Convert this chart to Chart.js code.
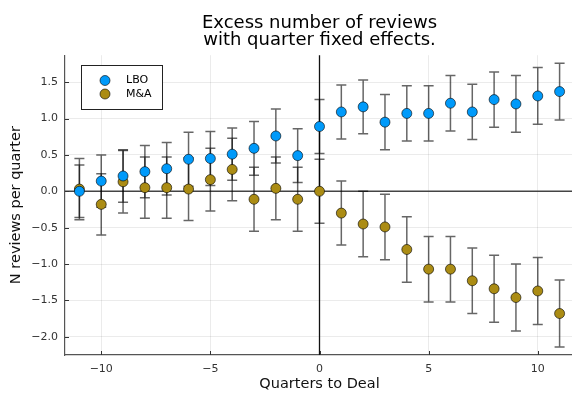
<!DOCTYPE html>
<html>
<head>
<meta charset="utf-8">
<script src="https://cdn.jsdelivr.net/npm/chart.js@4"></script>
<style>
  html, body { margin: 0; padding: 0; background: #fff; overflow: hidden; }
</style>
</head>
<body>
<canvas id="chart" width="580" height="393"></canvas>
<script>
// data

const quarters = [-11,-10,-9,-8,-7,-6,-5,-4,-3,-2,-1,0,1,2,3,4,5,6,7,8,9,10,11];

const lboValues = [0.00,0.14,0.21,0.27,0.31,0.44,0.45,0.51,0.59,0.76,0.49,0.89,1.09,1.16,0.95,1.07,1.07,1.21,1.09,1.26,1.20,1.31,1.37];
const lboErr    = [0.36,0.36,0.36,0.36,0.36,0.37,0.37,0.36,0.37,0.37,0.37,0.37,0.37,0.37,0.38,0.38,0.38,0.38,0.38,0.38,0.39,0.39,0.39];

const maValues = [0.03,-0.18,0.13,0.05,0.05,0.03,0.16,0.30,-0.11,0.04,-0.11,0.00,-0.30,-0.45,-0.49,-0.80,-1.07,-1.07,-1.23,-1.34,-1.46,-1.37,-1.68];
const maErr    = [0.42,0.42,0.43,0.42,0.42,0.43,0.43,0.43,0.44,0.43,0.44,0.44,0.44,0.45,0.45,0.45,0.45,0.45,0.45,0.46,0.46,0.46,0.46];

const xTicks = [-10,-5,0,5,10];
const yTicks = [-2.0,-1.5,-1.0,-0.5,0.0,0.5,1.0,1.5];

const seriesNames = ['LBO','M&A'];
const seriesColors = ['#009afa','#ab8c14'];

const FONT = "'DejaVu Sans', sans-serif";

const toPoints = (vals) => vals.map((v, i) => ({x: quarters[i], y: v}));

// error bars + zero lines, under the markers
const errorBars = {
  id: 'errorBars',
  beforeDatasetsDraw(chart) {
    const c = chart.ctx;
    const xs = chart.scales.x, ys = chart.scales.y;
    const area = chart.chartArea;
    c.save();
    // zero lines
    c.strokeStyle = '#444';
    c.lineWidth = 1.5;
    c.beginPath();
    c.moveTo(area.left, ys.getPixelForValue(0));
    c.lineTo(area.right, ys.getPixelForValue(0));
    c.stroke();
    c.strokeStyle = '#111';
    c.lineWidth = 1.3;
    c.beginPath();
    c.moveTo(xs.getPixelForValue(0), area.top);
    c.lineTo(xs.getPixelForValue(0), area.bottom);
    c.stroke();

    const sets = [[lboValues, lboErr], [maValues, maErr]];
    c.strokeStyle = 'rgba(0,0,0,0.6)';
    c.lineWidth = 1.5;
    sets.forEach(([vals, errs]) => {
      vals.forEach((v, i) => {
        const px = xs.getPixelForValue(quarters[i]);
        const top = ys.getPixelForValue(v + errs[i]);
        const bot = ys.getPixelForValue(v - errs[i]);
        c.beginPath();
        c.moveTo(px, top); c.lineTo(px, bot);
        c.moveTo(px - 5, top); c.lineTo(px + 5, top);
        c.moveTo(px - 5, bot); c.lineTo(px + 5, bot);
        c.stroke();
      });
    });
    c.restore();
  }
};

// inner tick marks + legend box
const extras = {
  id: 'extras',
  afterDraw(chart) {
    const c = chart.ctx;
    const xs = chart.scales.x, ys = chart.scales.y;
    const area = chart.chartArea;
    c.save();
    c.strokeStyle = '#333';
    c.lineWidth = 1;
    c.beginPath();
    xTicks.forEach(t => {
      const px = Math.round(xs.getPixelForValue(t)) + 0.5;
      c.moveTo(px, area.bottom); c.lineTo(px, area.bottom - 4);
    });
    yTicks.forEach(t => {
      const py = Math.round(ys.getPixelForValue(t)) + 0.5;
      c.moveTo(area.left, py); c.lineTo(area.left + 4, py);
    });
    c.stroke();

    // legend
    const lx = 81.5, ly = 65.5, lw = 81, lh = 44;
    c.fillStyle = '#fff';
    c.fillRect(lx, ly, lw, lh);
    c.strokeStyle = '#222';
    c.lineWidth = 1;
    c.strokeRect(lx, ly, lw, lh);
    seriesNames.forEach((name, i) => {
      const cy = 80.5 + i * 13.5;
      c.beginPath();
      c.arc(105, cy, 5, 0, Math.PI * 2);
      c.fillStyle = seriesColors[i];
      c.fill();
      c.strokeStyle = 'rgba(0,0,0,0.6)';
      c.stroke();
      c.fillStyle = '#000';
      c.font = '11px ' + FONT;
      c.textBaseline = 'middle';
      c.textAlign = 'left';
      c.fillText(name, 126, cy);
    });
    c.restore();
  }
};

const minusSign = (v) => String(v).replace('-', '\u2212');

new Chart(document.getElementById('chart'), {
  type: 'scatter',
  data: {
    datasets: [
      {
        label: seriesNames[0],
        data: toPoints(lboValues),
        backgroundColor: seriesColors[0],
        borderColor: 'rgba(0,0,0,0.6)',
        borderWidth: 1,
        pointRadius: 5
      },
      {
        label: seriesNames[1],
        data: toPoints(maValues),
        backgroundColor: seriesColors[1],
        borderColor: 'rgba(0,0,0,0.6)',
        borderWidth: 1,
        pointRadius: 5
      }
    ]
  },
  options: {
    responsive: false,
    animation: false,
    layout: { padding: { left: 0, right: 4, top: 0, bottom: 0 } },
    plugins: {
      legend: { display: false },
      tooltip: { enabled: false },
      title: {
        display: true,
        fullSize: false,
        text: ['Excess number of reviews', 'with quarter fixed effects.'],
        color: '#000',
        font: { family: FONT, size: 18, weight: 'normal', lineHeight: 0.95 },
        padding: { top: 15, bottom: 6 }
      }
    },
    scales: {
      x: {
        type: 'linear',
        min: -11.66,
        max: 11.66,
        afterBuildTicks: (s) => { s.ticks = xTicks.map(v => ({value: v})); },
        afterFit: (s) => { s.height = 38; },
        grid: { color: 'rgba(0,0,0,0.08)', lineWidth: 1, drawTicks: false },
        border: { color: '#555', width: 1.2 },
        ticks: {
          color: '#333',
          padding: 8,
          font: { family: FONT, size: 11 },
          callback: (v) => minusSign(v)
        },
        title: {
          display: true,
          text: 'Quarters to Deal',
          color: '#111',
          font: { family: FONT, size: 14.5 },
          padding: { top: 0, bottom: 0 }
        }
      },
      y: {
        type: 'linear',
        min: -2.25,
        max: 1.87,
        afterBuildTicks: (s) => { s.ticks = yTicks.map(v => ({value: v})); },
        afterFit: (s) => { s.width = 65; },
        grid: { color: 'rgba(0,0,0,0.08)', lineWidth: 1, drawTicks: false },
        border: { color: '#555', width: 1.2 },
        ticks: {
          color: '#333',
          padding: 7,
          font: { family: FONT, size: 11 },
          callback: (v) => minusSign(Number(v).toFixed(1))
        },
        title: {
          display: true,
          text: 'N reviews per quarter',
          color: '#111',
          font: { family: FONT, size: 14.5 },
          padding: { top: 8, bottom: 0 }
        }
      }
    }
  },
  plugins: [errorBars, extras]
});
</script>
</body>
</html>
